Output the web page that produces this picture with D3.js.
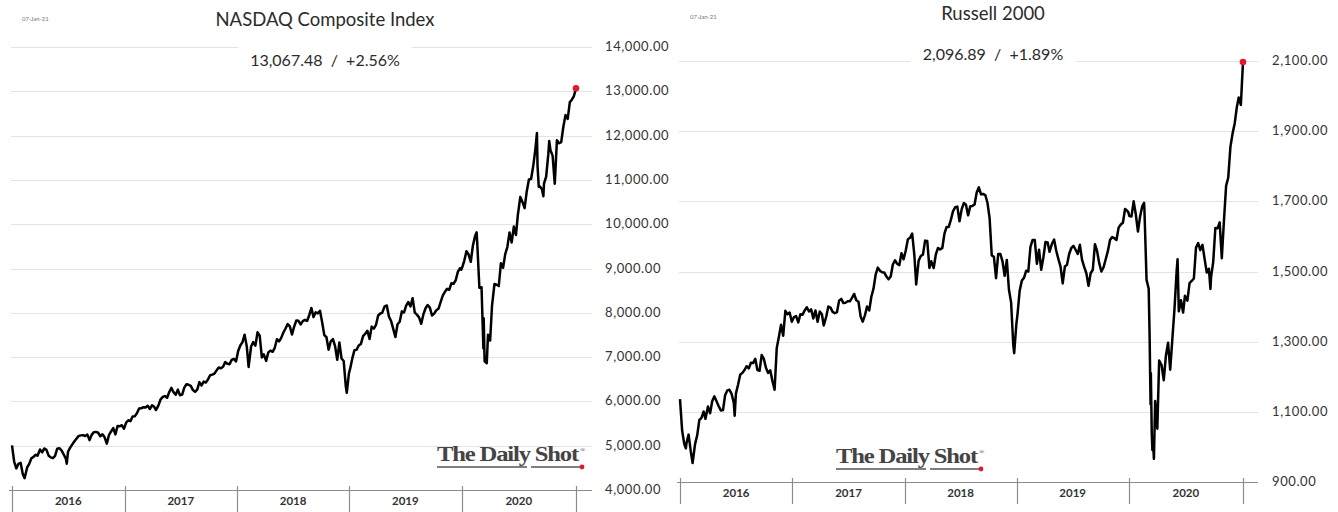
<!DOCTYPE html>
<html>
<head>
<meta charset="utf-8">
<script src="https://cdn.jsdelivr.net/npm/d3@7"></script>
<style>
  html, body { margin: 0; padding: 0; background: #fff; }
  svg { display: block; }
</style>
</head>
<body>
<svg id="chart" width="1338" height="512"></svg>
<script>
const yearLabels = ["2016", "2017", "2018", "2019", "2020"];
const nasdaqTicks = [4000, 5000, 6000, 7000, 8000, 9000, 10000, 11000, 12000, 13000, 14000];
const russellTicks = [900, 1100, 1300, 1500, 1700, 1900, 2100];

//weekly-ish closes
const nasdaqSeries = [
  ["2016-01-01",5007],["2016-01-08",4643],["2016-01-15",4488],["2016-01-22",4591],["2016-01-29",4614],
  ["2016-02-05",4363],["2016-02-11",4266],["2016-02-19",4504],["2016-02-26",4590],["2016-03-04",4717],
  ["2016-03-11",4748],["2016-03-18",4796],["2016-03-24",4774],["2016-04-01",4914],["2016-04-08",4850],
  ["2016-04-15",4938],["2016-04-22",4906],["2016-04-29",4775],["2016-05-06",4736],["2016-05-13",4718],
  ["2016-05-20",4770],["2016-05-27",4933],["2016-06-03",4943],["2016-06-10",4895],["2016-06-17",4801],
  ["2016-06-24",4708],["2016-06-27",4594],["2016-07-01",4863],["2016-07-08",4957],["2016-07-15",5030],
  ["2016-07-22",5100],["2016-07-29",5162],["2016-08-05",5221],["2016-08-12",5233],["2016-08-19",5238],
  ["2016-08-26",5219],["2016-09-02",5250],["2016-09-09",5126],["2016-09-16",5245],["2016-09-23",5306],
  ["2016-09-30",5312],["2016-10-07",5292],["2016-10-14",5214],["2016-10-21",5258],["2016-10-28",5190],
  ["2016-11-04",5046],["2016-11-11",5237],["2016-11-18",5321],["2016-11-25",5398],["2016-12-02",5255],
  ["2016-12-09",5444],["2016-12-16",5437],["2016-12-23",5462],["2016-12-30",5383],
  ["2017-01-06",5521],["2017-01-13",5574],["2017-01-20",5555],["2017-01-27",5660],["2017-02-03",5667],
  ["2017-02-10",5734],["2017-02-17",5839],["2017-02-24",5845],["2017-03-03",5870],["2017-03-10",5861],
  ["2017-03-17",5901],["2017-03-24",5828],["2017-03-31",5912],["2017-04-07",5877],["2017-04-13",5805],
  ["2017-04-21",5910],["2017-04-28",6048],["2017-05-05",6100],["2017-05-12",6121],["2017-05-19",6083],
  ["2017-05-26",6210],["2017-06-02",6305],["2017-06-09",6208],["2017-06-16",6151],["2017-06-23",6265],
  ["2017-06-30",6140],["2017-07-07",6153],["2017-07-14",6312],["2017-07-21",6387],["2017-07-28",6374],
  ["2017-08-04",6351],["2017-08-11",6256],["2017-08-18",6216],["2017-08-25",6265],["2017-09-01",6435],
  ["2017-09-08",6360],["2017-09-15",6448],["2017-09-22",6426],["2017-09-29",6496],["2017-10-06",6590],
  ["2017-10-13",6605],["2017-10-20",6629],["2017-10-27",6701],["2017-11-03",6764],["2017-11-10",6750],
  ["2017-11-17",6783],["2017-11-24",6889],["2017-12-01",6848],["2017-12-08",6840],["2017-12-15",6936],
  ["2017-12-22",6959],["2017-12-29",6903],
  ["2018-01-05",7136],["2018-01-12",7261],["2018-01-19",7336],["2018-01-26",7506],["2018-02-02",7241],
  ["2018-02-08",6777],["2018-02-16",7239],["2018-02-23",7337],["2018-03-02",7258],["2018-03-09",7560],
  ["2018-03-16",7482],["2018-03-23",6993],["2018-03-29",7063],["2018-04-06",6915],["2018-04-13",7107],
  ["2018-04-20",7146],["2018-04-27",7120],["2018-05-04",7210],["2018-05-11",7403],["2018-05-18",7355],
  ["2018-05-25",7434],["2018-06-01",7555],["2018-06-08",7646],["2018-06-15",7746],["2018-06-22",7692],
  ["2018-06-29",7510],["2018-07-06",7688],["2018-07-13",7826],["2018-07-20",7820],["2018-07-27",7737],
  ["2018-08-03",7812],["2018-08-10",7839],["2018-08-17",7816],["2018-08-24",7946],["2018-08-31",8110],
  ["2018-09-07",7903],["2018-09-14",8010],["2018-09-21",7987],["2018-09-28",8046],["2018-10-05",7788],
  ["2018-10-12",7497],["2018-10-19",7449],["2018-10-26",7167],["2018-11-02",7357],["2018-11-09",7407],
  ["2018-11-16",7248],["2018-11-23",6939],["2018-11-30",7331],["2018-12-07",6969],["2018-12-14",6911],
  ["2018-12-21",6333],["2018-12-24",6193],["2018-12-31",6635],
  ["2019-01-04",6739],["2019-01-11",6971],["2019-01-18",7157],["2019-01-25",7165],["2019-02-01",7264],
  ["2019-02-08",7298],["2019-02-15",7472],["2019-02-22",7527],["2019-03-01",7595],["2019-03-08",7408],
  ["2019-03-15",7688],["2019-03-22",7643],["2019-03-29",7729],["2019-04-05",7939],["2019-04-12",7984],
  ["2019-04-18",7998],["2019-04-26",8146],["2019-05-03",8164],["2019-05-10",7917],["2019-05-17",7816],
  ["2019-05-24",7637],["2019-05-31",7453],["2019-06-07",7742],["2019-06-14",7797],["2019-06-21",8032],
  ["2019-06-28",8006],["2019-07-05",8162],["2019-07-12",8244],["2019-07-19",8146],["2019-07-26",8330],
  ["2019-08-02",8004],["2019-08-09",7959],["2019-08-16",7896],["2019-08-23",7751],["2019-08-30",7963],
  ["2019-09-06",8103],["2019-09-13",8177],["2019-09-20",8117],["2019-09-27",7940],["2019-10-04",7982],
  ["2019-10-11",8057],["2019-10-18",8090],["2019-10-25",8243],["2019-11-01",8386],["2019-11-08",8475],
  ["2019-11-15",8541],["2019-11-22",8520],["2019-11-29",8665],["2019-12-06",8656],["2019-12-13",8735],
  ["2019-12-20",8925],["2019-12-27",9007],["2019-12-31",8973],
  ["2020-01-03",9021],["2020-01-10",9179],["2020-01-17",9389],["2020-01-24",9315],["2020-01-31",9151],
  ["2020-02-07",9521],["2020-02-14",9731],["2020-02-19",9817],["2020-02-21",9577],["2020-02-28",8567],
  ["2020-03-06",8576],["2020-03-12",7201],["2020-03-13",7875],["2020-03-16",6905],["2020-03-20",6880],
  ["2020-03-23",6861],["2020-03-27",7502],["2020-04-03",7374],["2020-04-09",8154],["2020-04-17",8650],
  ["2020-04-24",8634],["2020-05-01",8605],["2020-05-08",9121],["2020-05-15",9015],["2020-05-22",9325],
  ["2020-05-29",9490],["2020-06-05",9815],["2020-06-12",9589],["2020-06-19",9946],["2020-06-26",9757],
  ["2020-07-02",10208],["2020-07-10",10617],["2020-07-17",10503],["2020-07-24",10363],["2020-07-31",10745],
  ["2020-08-07",11011],["2020-08-14",11019],["2020-08-21",11312],["2020-08-28",11696],["2020-09-02",12056],
  ["2020-09-04",11313],["2020-09-08",10847],["2020-09-11",10854],["2020-09-18",10793],["2020-09-23",10633],
  ["2020-09-25",10914],["2020-10-02",11076],["2020-10-09",11580],["2020-10-12",11876],["2020-10-16",11672],
  ["2020-10-23",11548],["2020-10-30",10912],["2020-11-06",11895],["2020-11-13",11829],["2020-11-20",11855],
  ["2020-11-27",12206],["2020-12-04",12464],["2020-12-11",12377],["2020-12-18",12756],["2020-12-24",12805],
  ["2020-12-31",12888],["2021-01-07",13067.48]
];

const russellSeries = [
  ["2016-01-01",1136],["2016-01-08",1046],["2016-01-15",1008],["2016-01-20",996],["2016-01-22",1010],
  ["2016-01-29",1035],["2016-02-05",988],["2016-02-11",954],["2016-02-19",1008],["2016-02-26",1033],
  ["2016-03-04",1077],["2016-03-11",1083],["2016-03-18",1101],["2016-03-24",1080],["2016-04-01",1115],
  ["2016-04-08",1096],["2016-04-15",1131],["2016-04-22",1144],["2016-04-29",1130],["2016-05-06",1116],
  ["2016-05-13",1104],["2016-05-20",1105],["2016-05-27",1148],["2016-06-03",1161],["2016-06-10",1163],
  ["2016-06-17",1151],["2016-06-24",1127],["2016-06-27",1089],["2016-07-01",1152],["2016-07-08",1177],
  ["2016-07-15",1206],["2016-07-22",1211],["2016-07-29",1219],["2016-08-05",1230],["2016-08-12",1224],
  ["2016-08-19",1240],["2016-08-26",1239],["2016-09-02",1251],["2016-09-09",1219],["2016-09-16",1217],
  ["2016-09-23",1262],["2016-09-30",1251],["2016-10-07",1225],["2016-10-14",1211],["2016-10-21",1218],
  ["2016-10-28",1188],["2016-11-04",1163],["2016-11-11",1282],["2016-11-18",1314],["2016-11-25",1348],
  ["2016-12-02",1317],["2016-12-09",1388],["2016-12-16",1378],["2016-12-23",1383],["2016-12-30",1357],
  ["2017-01-06",1370],["2017-01-13",1373],["2017-01-20",1355],["2017-01-27",1378],["2017-02-03",1377],
  ["2017-02-10",1389],["2017-02-17",1398],["2017-02-24",1386],["2017-03-03",1392],["2017-03-10",1366],
  ["2017-03-17",1389],["2017-03-24",1357],["2017-03-31",1386],["2017-04-07",1378],["2017-04-13",1346],
  ["2017-04-21",1371],["2017-04-28",1400],["2017-05-05",1397],["2017-05-12",1385],["2017-05-19",1381],
  ["2017-05-26",1384],["2017-06-02",1417],["2017-06-09",1422],["2017-06-16",1410],["2017-06-23",1411],
  ["2017-06-30",1415],["2017-07-07",1415],["2017-07-14",1425],["2017-07-21",1436],["2017-07-28",1418],
  ["2017-08-04",1414],["2017-08-11",1372],["2017-08-18",1357],["2017-08-25",1375],["2017-09-01",1400],
  ["2017-09-08",1389],["2017-09-15",1428],["2017-09-22",1451],["2017-09-29",1491],["2017-10-06",1511],
  ["2017-10-13",1502],["2017-10-20",1498],["2017-10-27",1497],["2017-11-03",1486],["2017-11-10",1478],
  ["2017-11-17",1486],["2017-11-24",1520],["2017-12-01",1532],["2017-12-08",1522],["2017-12-15",1518],
  ["2017-12-22",1552],["2017-12-29",1535],
  ["2018-01-05",1560],["2018-01-12",1592],["2018-01-19",1596],["2018-01-26",1608],["2018-02-02",1547],
  ["2018-02-08",1463],["2018-02-16",1531],["2018-02-23",1544],["2018-03-02",1548],["2018-03-09",1588],
  ["2018-03-16",1587],["2018-03-23",1510],["2018-03-29",1529],["2018-04-06",1510],["2018-04-13",1549],
  ["2018-04-20",1567],["2018-04-27",1563],["2018-05-04",1567],["2018-05-11",1608],["2018-05-18",1627],
  ["2018-05-25",1627],["2018-06-01",1648],["2018-06-08",1672],["2018-06-15",1683],["2018-06-22",1685],
  ["2018-06-29",1643],["2018-07-06",1677],["2018-07-13",1695],["2018-07-20",1690],["2018-07-27",1660],
  ["2018-08-03",1686],["2018-08-10",1687],["2018-08-17",1691],["2018-08-24",1725],["2018-08-31",1740],
  ["2018-09-07",1720],["2018-09-14",1721],["2018-09-21",1718],["2018-09-28",1696],["2018-10-05",1652],
  ["2018-10-12",1546],["2018-10-19",1542],["2018-10-26",1481],["2018-11-02",1550],["2018-11-09",1550],
  ["2018-11-16",1529],["2018-11-23",1488],["2018-11-30",1533],["2018-12-07",1448],["2018-12-14",1412],
  ["2018-12-21",1292],["2018-12-24",1267],["2018-12-31",1349],
  ["2019-01-04",1379],["2019-01-11",1446],["2019-01-18",1474],["2019-01-25",1482],["2019-02-01",1502],
  ["2019-02-08",1500],["2019-02-15",1570],["2019-02-22",1590],["2019-03-01",1590],["2019-03-08",1522],
  ["2019-03-15",1562],["2019-03-22",1505],["2019-03-29",1540],["2019-04-05",1584],["2019-04-12",1583],
  ["2019-04-18",1556],["2019-04-26",1579],["2019-05-03",1591],["2019-05-10",1559],["2019-05-17",1535],
  ["2019-05-24",1514],["2019-05-31",1466],["2019-06-07",1514],["2019-06-14",1519],["2019-06-21",1550],
  ["2019-06-28",1567],["2019-07-05",1573],["2019-07-12",1562],["2019-07-19",1550],["2019-07-26",1576],
  ["2019-08-02",1533],["2019-08-09",1513],["2019-08-16",1495],["2019-08-23",1459],["2019-08-30",1495],
  ["2019-09-06",1505],["2019-09-13",1578],["2019-09-20",1558],["2019-09-27",1523],["2019-10-04",1500],
  ["2019-10-11",1512],["2019-10-18",1535],["2019-10-25",1558],["2019-11-01",1590],["2019-11-08",1598],
  ["2019-11-15",1595],["2019-11-22",1590],["2019-11-29",1625],["2019-12-06",1634],["2019-12-13",1639],
  ["2019-12-20",1678],["2019-12-27",1673],["2019-12-31",1668],
  ["2020-01-03",1658],["2020-01-10",1657],["2020-01-17",1700],["2020-01-24",1663],["2020-01-31",1614],
  ["2020-02-07",1657],["2020-02-14",1686],["2020-02-20",1696],["2020-02-21",1678],["2020-02-28",1476],
  ["2020-03-06",1451],["2020-03-09",1313],["2020-03-12",1122],["2020-03-13",1210],["2020-03-16",1037],
  ["2020-03-18",991],["2020-03-20",1014],["2020-03-23",966],["2020-03-27",1131],["2020-04-03",1052],
  ["2020-04-09",1246],["2020-04-17",1233],["2020-04-24",1190],["2020-05-01",1260],["2020-05-08",1297],
  ["2020-05-15",1220],["2020-05-22",1308],["2020-05-29",1394],["2020-06-05",1502],["2020-06-08",1535],
  ["2020-06-12",1387],["2020-06-19",1418],["2020-06-26",1383],["2020-07-02",1431],["2020-07-10",1417],
  ["2020-07-17",1467],["2020-07-24",1473],["2020-07-31",1480],["2020-08-07",1568],["2020-08-14",1581],
  ["2020-08-21",1561],["2020-08-28",1576],["2020-09-04",1536],["2020-09-11",1497],["2020-09-18",1508],
  ["2020-09-23",1450],["2020-09-25",1484],["2020-10-02",1527],["2020-10-09",1624],["2020-10-16",1623],
  ["2020-10-23",1640],["2020-10-30",1538],["2020-11-06",1645],["2020-11-13",1744],["2020-11-20",1768],
  ["2020-11-27",1855],["2020-12-04",1893],["2020-12-11",1922],["2020-12-18",1969],["2020-12-24",1996],
  ["2020-12-31",1975],["2021-01-07",2096.89]
];

const parseDate = d3.timeParse("%Y-%m-%d");
const fmtTick = d3.format(",.2f");
const LABEL_FONT = "Lato, 'Open Sans', sans-serif";

const svg = d3.select("#chart");
svg.append("rect").attr("width", 1338).attr("height", 512).attr("fill", "#fff");

//one panel (title, grid, line, axis, logo)
function drawPanel(opt) {
  const data = opt.series.map(d => ({ date: parseDate(d[0]), value: d[1] }));
  const first = data[0].date;
  const last = data[data.length - 1].date;

  const x = d3.scaleTime().domain([first, last]).range([opt.left, opt.right]);
  const y = d3.scaleLinear().domain(opt.domain).range([opt.bottom, opt.top]);

  const g = svg.append("g");

  //horizontal grid (skip the bottom one, that's the axis)
  g.selectAll("line.grid")
    .data(opt.ticks.slice(1))
    .join("line")
    .attr("class", "grid")
    .attr("x1", opt.left - 1)
    .attr("x2", opt.gridRight)
    .attr("y1", d => Math.round(y(d)) + 0.5)
    .attr("y2", d => Math.round(y(d)) + 0.5)
    .attr("stroke", "#e4e4e4")
    .attr("stroke-width", 1);

  //value labels on the right
  g.selectAll("text.ylab")
    .data(opt.ticks)
    .join("text")
    .attr("class", "ylab")
    .attr("x", opt.labelX)
    .attr("y", d => y(d) + 4)
    .style("font-family", LABEL_FONT)
    .style("font-size", "13px")
    .style("letter-spacing", "0.6px")
    .style("fill", "#333")
    .text(d => fmtTick(d));

  //bottom axis with year separators
  const yearStarts = yearLabels.map(yr => parseDate(yr + "-01-01"));
  const sepDates = yearStarts.concat([last]);
  g.append("line")
    .attr("x1", opt.left - 3).attr("x2", opt.gridRight)
    .attr("y1", opt.bottom + 0.5).attr("y2", opt.bottom + 0.5)
    .attr("stroke", "#8c8c8c").attr("stroke-width", 1.2);
  g.selectAll("line.sep")
    .data(sepDates)
    .join("line")
    .attr("class", "sep")
    .attr("x1", d => Math.round(x(d)) + 0.5)
    .attr("x2", d => Math.round(x(d)) + 0.5)
    .attr("y1", opt.bottom - 4)
    .attr("y2", opt.bottom + 22)
    .attr("stroke", "#8c8c8c").attr("stroke-width", 1.2);
  g.selectAll("text.year")
    .data(yearLabels)
    .join("text")
    .attr("class", "year")
    .attr("x", (d, i) => (x(sepDates[i]) + x(sepDates[i + 1])) / 2)
    .attr("y", opt.bottom + 15)
    .attr("text-anchor", "middle")
    .style("font-family", LABEL_FONT)
    .style("font-size", "11.5px")
    .style("font-weight", "700")
    .style("fill", "#333")
    .text(d => d);

  //the series
  const line = d3.line().x(d => x(d.date)).y(d => y(d.value));
  g.append("path")
    .datum(data)
    .attr("d", line)
    .attr("fill", "none")
    .attr("stroke", "#000")
    .attr("stroke-width", 2.5)
    .attr("stroke-linejoin", "round");

  const end = data[data.length - 1];
  g.append("circle")
    .attr("cx", x(end.date)).attr("cy", y(end.value))
    .attr("r", 3.3).attr("fill", "#e3172d");

  //title, date, subtitle
  g.append("text")
    .attr("x", opt.titleX).attr("y", opt.titleY)
    .attr("text-anchor", "middle")
    .style("font-family", LABEL_FONT)
    .style("font-size", "18.5px")
    .style("fill", "#2b2b2b")
    .text(opt.title);

  g.append("text")
    .attr("x", opt.dateX).attr("y", opt.dateY)
    .style("font-family", LABEL_FONT)
    .style("font-size", "6px")
    .style("fill", "#777")
    .text("07-Jan-21");

  const sub = g.append("text")
    .attr("x", opt.titleX).attr("y", opt.subY)
    .attr("text-anchor", "middle")
    .style("font-family", LABEL_FONT)
    .style("font-size", "16px")
    .style("white-space", "pre")
    .style("fill", "#2b2b2b")
    .text(opt.subtitle);
  const bb = sub.node().getBBox();
  g.insert("rect", "text")
    .attr("x", bb.x - 12).attr("y", opt.subY - 20)
    .attr("width", bb.width + 24).attr("height", 30)
    .attr("fill", "#fff");

  //The Daily Shot mark
  const lg = g.append("g").attr("transform", `translate(${opt.logoX},${opt.logoY})`);
  lg.append("text")
    .attr("x", 0).attr("y", 0)
    .attr("textLength", 141)
    .attr("lengthAdjust", "spacingAndGlyphs")
    .style("font-family", "'Liberation Serif', 'DejaVu Serif', serif")
    .style("font-size", "21px")
    .style("font-weight", "700")
    .style("letter-spacing", "-1px")
    .style("fill", "#444")
    .text("The Daily Shot");
  lg.append("text")
    .attr("x", 143).attr("y", -9)
    .style("font-family", "'Liberation Serif', serif")
    .style("font-size", "7px")
    .style("fill", "#444")
    .text("®");
  lg.append("line").attr("x1", 0).attr("x2", 90).attr("y1", 6).attr("y2", 6)
    .attr("stroke", "#555").attr("stroke-width", 1.3);
  lg.append("line").attr("x1", 94).attr("x2", 144).attr("y1", 6).attr("y2", 6)
    .attr("stroke", "#555").attr("stroke-width", 1.3);
  lg.append("circle").attr("cx", 145).attr("cy", 6).attr("r", 2.4).attr("fill", "#e3172d");
}

drawPanel({
  series: nasdaqSeries,
  ticks: nasdaqTicks,
  domain: [4000, 14000],
  left: 12, right: 576, top: 47, bottom: 490,
  gridRight: 592, labelX: 605,
  title: "NASDAQ Composite Index", titleX: 325, titleY: 26,
  subtitle: "13,067.48  /  +2.56%", subY: 66,
  dateX: 22, dateY: 21,
  logoX: 437, logoY: 461
});

drawPanel({
  series: russellSeries,
  ticks: russellTicks,
  domain: [900, 2100],
  left: 680, right: 1243, top: 61, bottom: 482,
  gridRight: 1258, labelX: 1272,
  title: "Russell 2000", titleX: 993, titleY: 20,
  subtitle: "2,096.89  /  +1.89%", subY: 60,
  dateX: 690, dateY: 19,
  logoX: 836, logoY: 463
});
</script>
</body>
</html>
